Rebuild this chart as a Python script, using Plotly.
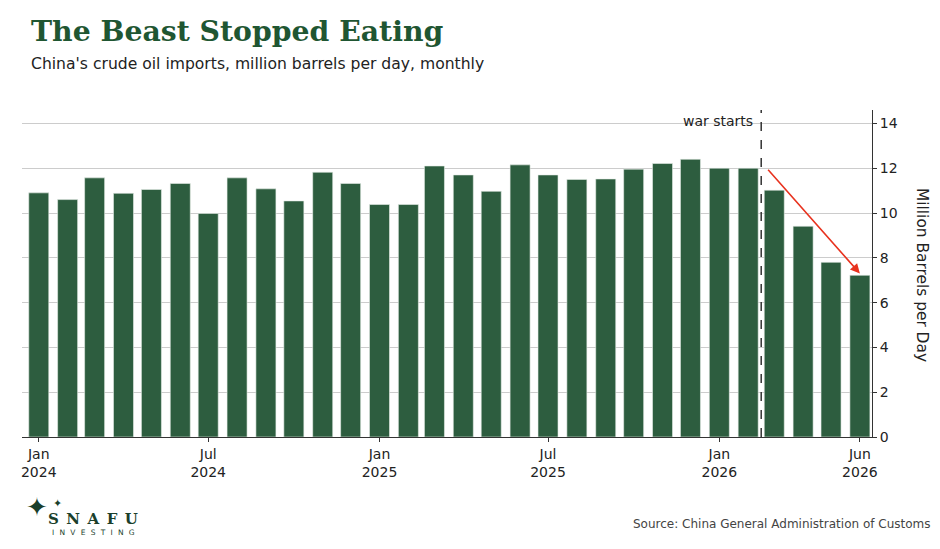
import plotly.graph_objects as go

# monthly crude imports, million barrels per day
months = [
    "2024-01-01", "2024-02-01", "2024-03-01", "2024-04-01", "2024-05-01", "2024-06-01",
    "2024-07-01", "2024-08-01", "2024-09-01", "2024-10-01", "2024-11-01", "2024-12-01",
    "2025-01-01", "2025-02-01", "2025-03-01", "2025-04-01", "2025-05-01", "2025-06-01",
    "2025-07-01", "2025-08-01", "2025-09-01", "2025-10-01", "2025-11-01", "2025-12-01",
    "2026-01-01", "2026-02-01", "2026-03-01", "2026-04-01", "2026-05-01", "2026-06-01",
]
imports = [
    10.9, 10.6, 11.57, 10.88, 11.05, 11.32,
    9.98, 11.57, 11.08, 10.54, 11.82, 11.32,
    10.38, 10.38, 12.1, 11.7, 10.97, 12.15,
    11.7, 11.5, 11.52, 11.96, 12.21, 12.4,
    12.0, 12.0, 11.02, 9.41, 7.8, 7.22,
]

tick_dates = ["2024-01-01", "2024-07-01", "2025-01-01", "2025-07-01", "2026-01-01", "2026-06-01"]
tick_text = ["Jan<br>2024", "Jul<br>2024", "Jan<br>2025", "Jul<br>2025", "Jan<br>2026", "Jun<br>2026"]

war_date = "2026-02-15"
arrow_start = ("2026-02-21", 12.0)
arrow_end = ("2026-06-01", 7.3)

GREEN = "#2d5d3f"
FONT = "DejaVu Sans"

# page puts the figure 8px in from the top left corner
W, H = 932, 541
L, R, T, B = 14, 68, 102, 112


def px(x, y):
    # screen pixel -> paper fraction
    return (x - 8 - L) / (W - L - R), (H - (y - 8) - B) / (H - T - B)


fig = go.Figure()
fig.add_trace(go.Bar(
    x=months, y=imports,
    width=21.5 * 86400000,
    marker=dict(color=GREEN, line=dict(color="#e8efe9", width=0.6)),
    hoverinfo="x+y",
))

# war marker
fig.add_shape(type="line", xref="x", yref="paper", x0=war_date, x1=war_date, y0=0, y1=1,
              line=dict(color="#333333", width=1.5, dash="dash"))
fig.add_annotation(x=war_date, y=14.0, xref="x", yref="y", text="war starts",
                   showarrow=False, xanchor="right", xshift=-6, yshift=2,
                   font=dict(family=FONT, size=14, color="#222222"))

# decline arrow
fig.add_annotation(x=arrow_end[0], y=arrow_end[1], ax=arrow_start[0], ay=arrow_start[1],
                   xref="x", yref="y", axref="x", ayref="y", text="",
                   showarrow=True, arrowhead=2, arrowsize=1.2, arrowwidth=1.6,
                   arrowcolor="#e8321e")


def note(x, y, text, size, color, family=FONT, anchor="left", angle=0):
    px_x, px_y = px(x, y)
    fig.add_annotation(x=px_x, y=px_y, xref="paper", yref="paper", text=text,
                       showarrow=False, xanchor=anchor, yanchor="middle", textangle=angle,
                       font=dict(family=family, size=size, color=color))


note(29, 31, "<b>The Beast Stopped Eating</b>", 28.3, "#1f5632", family="DejaVu Serif")
note(29, 64, "China's crude oil imports, million barrels per day, monthly", 15.6, "#222222")
note(922, 275, "Million Barrels per Day", 15.4, "#222222", anchor="center", angle=90)
note(933, 524, "Source: China General Administration of Customs", 12, "#444444", anchor="right")

# logo
LOGO = "#1b3f2c"
note(37, 507, "\u2726", 26, LOGO, anchor="center")
note(57, 503, "\u2726", 11, LOGO, anchor="center")
note(93, 519, "<b>S\u2002N\u2002A\u2002F\u2002U</b>", 15, LOGO, family="DejaVu Serif", anchor="center")
note(93, 532, "I\u2002\u2009N\u2002\u2009V\u2002\u2009E\u2002\u2009S\u2002\u2009T\u2002\u2009I\u2002\u2009N\u2002\u2009G",
     7.5, LOGO, anchor="center")

fig.update_layout(
    width=W, height=H,
    margin=dict(l=L, r=R, t=T, b=B),
    paper_bgcolor="white", plot_bgcolor="white",
    showlegend=False,
    font=dict(family=FONT, size=14, color="#222222"),
    xaxis=dict(
        type="date", range=["2023-12-14", "2026-06-14"],
        tickvals=tick_dates, ticktext=tick_text,
        showgrid=False, showline=True, linecolor="#333333", linewidth=1,
        ticks="outside", ticklen=4, tickcolor="#333333",
        tickfont=dict(size=14, color="#222222"), zeroline=False,
    ),
    yaxis=dict(
        side="right", range=[0, 14.6], dtick=2,
        showgrid=True, gridcolor="#cccccc", gridwidth=1,
        showline=True, linecolor="#333333", linewidth=1,
        ticks="outside", ticklen=4, tickcolor="#333333",
        tickfont=dict(size=14, color="#222222"), zeroline=False,
    ),
)

fig.write_html("out.html")
